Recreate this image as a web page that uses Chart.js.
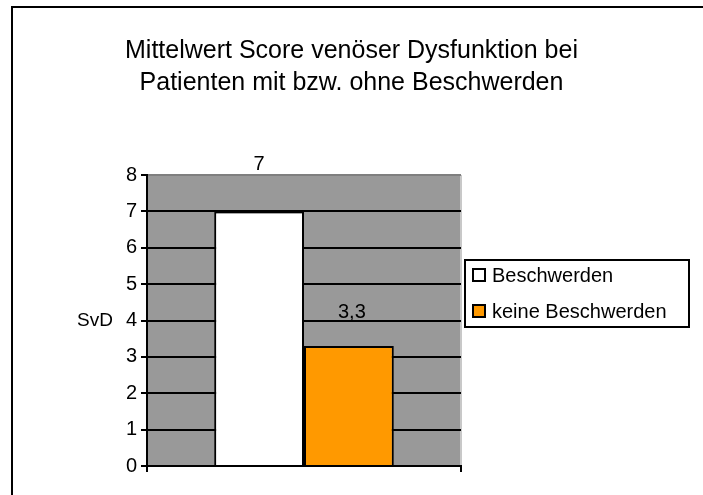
<!DOCTYPE html>
<html>
<head>
<meta charset="utf-8">
<script src="https://cdn.jsdelivr.net/npm/chart.js@4/dist/chart.umd.min.js"></script>
<style>
    html, body { margin: 0; padding: 0; background: #ffffff; }
    #wrap { width: 703px; height: 495px; }
</style>
</head>
<body>
<div id="wrap"><canvas id="chart" width="703" height="495"></canvas></div>
<script>

// ============================================
// DATOS
// ============================================

const titleLines = [
    'Mittelwert Score venöser Dysfunktion bei',
    'Patienten mit bzw. ohne Beschwerden'
];

const categories = [''];

const seriesNames = ['Beschwerden', 'keine Beschwerden'];

const seriesValues = [[7], [3.3]];

const seriesColors = ['#ffffff', '#ff9900'];

const yTicks = [0, 1, 2, 3, 4, 5, 6, 7, 8];

const yTitle = 'SvD';


const FONT = '"Liberation Sans", Arial, sans-serif';


// ============================================
// PLUGIN: fondo gris, marco, etiquetas, leyenda
// ============================================

const decorPlugin = {

    id: 'decor',

    beforeDraw(chart) {

        const { ctx, chartArea: a } = chart;

        ctx.save();

        // marco exterior
        ctx.fillStyle = '#000000';
        ctx.fillRect(11, 6, 2, chart.height);
        ctx.fillRect(11, 6, chart.width, 2);

        // area de trazado gris
        ctx.fillStyle = '#999999';
        ctx.fillRect(a.left, a.top, a.right - a.left, a.bottom - a.top);

        ctx.fillStyle = '#c8c8c8';
        ctx.fillRect(a.right - 1, a.top, 2, a.bottom - a.top);

        ctx.restore();
    },

    afterDraw(chart) {

        const { ctx, chartArea: a } = chart;
        const yScale = chart.scales.y;

        ctx.save();

        // titulo del eje y (horizontal, a la altura del 4)
        ctx.font = '19px ' + FONT;
        ctx.fillStyle = '#000000';
        ctx.textAlign = 'right';
        ctx.textBaseline = 'middle';
        ctx.fillText(yTitle, 113, yScale.getPixelForValue(4));

        // etiquetas de valores
        ctx.font = '20px ' + FONT;

        const offsets = [47, 33];

        chart.data.datasets.forEach((ds, i) => {

            const meta = chart.getDatasetMeta(i);

            meta.data.forEach((bar, j) => {

                const txt = String(ds.data[j]).replace('.', ',');

                ctx.textAlign = 'center';
                ctx.fillText(txt, bar.x + (i === 1 ? 3 : 0), bar.y - offsets[i]);
            });
        });

        // leyenda con recuadro
        const lx = a.right + 4;
        const ly = 260;
        const lw = 224;
        const lh = 67;

        ctx.fillStyle = '#ffffff';
        ctx.fillRect(lx, ly, lw, lh);
        ctx.lineWidth = 2;
        ctx.strokeStyle = '#000000';
        ctx.strokeRect(lx, ly, lw, lh);

        chart.data.datasets.forEach((ds, i) => {

            const cy = ly + 15 + i * 36;

            ctx.fillStyle = ds.backgroundColor;
            ctx.fillRect(lx + 8, cy - 6, 12, 12);
            ctx.lineWidth = 2;
            ctx.strokeRect(lx + 8, cy - 6, 12, 12);

            ctx.fillStyle = '#000000';
            ctx.textAlign = 'left';
            ctx.fillText(ds.label, lx + 27, cy + 1);
        });

        ctx.restore();
    }
};


// ============================================
// GRAFICA
// ============================================

const ctx =
    document
    .getElementById('chart')
    .getContext('2d');


new Chart(ctx, {

    type: 'bar',

    data: {

        labels: categories,

        datasets: seriesNames.map((name, i) => ({

            label: name,

            data: seriesValues[i],

            backgroundColor: seriesColors[i],

            borderColor: '#000000',

            borderWidth: 2,

            barPercentage: 1,

            categoryPercentage: 0.572
        }))
    },

    options: {

        responsive: false,

        animation: false,

        layout: {

            padding: 0
        },

        plugins: {

            legend: { display: false },

            tooltip: { enabled: false },

            title: {

                display: true,

                text: titleLines,

                color: '#000000',

                font: { family: FONT, size: 25, weight: 'normal', lineHeight: 1.28 },

                padding: { top: 35, bottom: 76 }
            }
        },

        scales: {

            x: {

                offset: true,

                afterFit: (scale) => { scale.height = 29; },

                grid: {

                    offset: true,

                    drawOnChartArea: false,

                    color: '#000000',

                    lineWidth: 2,

                    tickLength: 6
                },

                border: { color: '#000000', width: 2 },

                ticks: { display: false }
            },

            y: {

                min: yTicks[0],

                max: yTicks[yTicks.length - 1],

                afterFit: (scale) => { scale.width = 147; },

                afterBuildTicks: (scale) => {
                    scale.ticks = yTicks.map(v => ({ value: v }));
                },

                grid: {

                    color: (c) => c.tick && c.tick.value === 8 ? '#7f7f7f' : '#000000',

                    lineWidth: 2,

                    tickLength: 6,

                    tickColor: '#000000'
                },

                border: { color: '#000000', width: 2 },

                ticks: {

                    color: '#000000',

                    padding: 4,

                    font: { family: FONT, size: 20 }
                }
            },

            // espacio reservado a la derecha para la leyenda
            legendSpace: {

                type: 'linear',

                position: 'right',

                display: true,

                afterFit: (scale) => { scale.width = 242; },

                grid: { display: false, drawOnChartArea: false },

                border: { display: false },

                ticks: { display: false }
            }
        }
    },

    plugins: [decorPlugin]
});

</script>
</body>
</html>
